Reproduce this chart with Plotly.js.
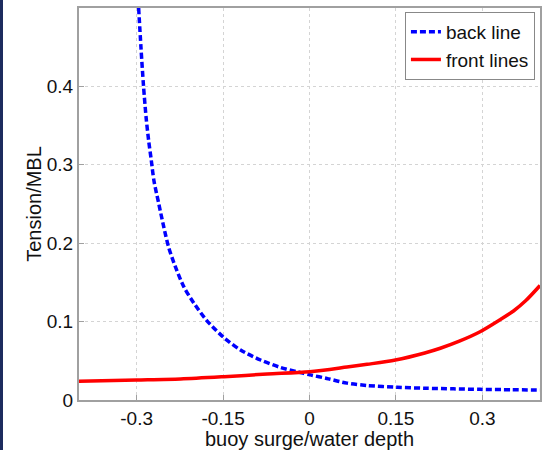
<!DOCTYPE html>
<html>
<head>
<meta charset="utf-8">
<script src="https://cdn.plot.ly/plotly-3.0.1.min.js"></script>
<style>
html,body{margin:0;padding:0;background:#fff;}
#chart{width:543px;height:450px;}
#edge{position:absolute;left:0;top:0;width:3px;height:450px;background:#1d2b5e;}
</style>
</head>
<body>
<div id="chart"></div>
<div id="edge"></div>
<script>
// back line (blue dashed)
const backX = [-0.2965, -0.2925, -0.288, -0.2835, -0.279, -0.2746, -0.270, -0.2616, -0.253, -0.2445, -0.2328, -0.218, -0.2006, -0.179, -0.1486, -0.1196, -0.085, -0.0503, -0.0214, 0.0017, 0.03, 0.065, 0.1, 0.152, 0.2, 0.25, 0.296, 0.35, 0.4];
const backY = [0.5, 0.45, 0.4, 0.36, 0.33, 0.306, 0.280, 0.2505, 0.221, 0.195, 0.170, 0.1443, 0.1235, 0.102, 0.0796, 0.0637, 0.051, 0.0415, 0.036, 0.032, 0.0275, 0.0215, 0.0185, 0.0162, 0.015, 0.0142, 0.0136, 0.0131, 0.0127];
// front lines (red solid)
const frontX = [-0.4, -0.3, -0.2237, -0.1486, -0.0734, 0, 0.065, 0.1, 0.149, 0.2, 0.227, 0.26, 0.296, 0.33, 0.354, 0.375, 0.4];
const frontY = [0.024, 0.0255, 0.0268, 0.0297, 0.0331, 0.036, 0.042, 0.0455, 0.051, 0.060, 0.066, 0.075, 0.087, 0.102, 0.1135, 0.1265, 0.146];

const xTicks = [-0.3, -0.15, 0, 0.15, 0.3];
const xTickText = ['-0.3', '-0.15', '0', '0.15', '0.3'];
const yTicks = [0, 0.1, 0.2, 0.3, 0.4];
const yTickText = ['0', '0.1', '0.2', '0.3', '0.4'];

const font = 'Liberation Sans, Arial, sans-serif';

const traces = [
  {x: backX, y: backY, type: 'scatter', mode: 'lines', name: 'back line',
   line: {color: '#0000ff', width: 3.5, dash: '6px,3px', shape: 'spline', smoothing: 0.8}},
  {x: frontX, y: frontY, type: 'scatter', mode: 'lines', name: 'front lines',
   line: {color: '#ff0000', width: 3.5, shape: 'spline', smoothing: 0.8}}
];

const axisCommon = {
  showline: true, mirror: true, linecolor: '#a0a0a0', linewidth: 2,
  ticks: 'inside', ticklen: 5, tickcolor: '#a0a0a0',
  showgrid: true, gridcolor: '#d4d4d4', griddash: 'dot', gridwidth: 1,
  zeroline: false, tickfont: {family: font, size: 19, color: '#111'}
};

const layout = {
  width: 543, height: 450,
  margin: {l: 79, r: 3, t: 8, b: 50},
  paper_bgcolor: '#fff', plot_bgcolor: '#fff',
  showlegend: true,
  legend: {x: 0.989, y: 0.99, xanchor: 'right', yanchor: 'top',
    bgcolor: '#fff', bordercolor: '#888', borderwidth: 1,
    font: {family: font, size: 19, color: '#111'}, tracegroupgap: 0, itemwidth: 30},
  xaxis: Object.assign({}, axisCommon, {
    range: [-0.4, 0.4], tickmode: 'array', tickvals: xTicks, ticktext: xTickText,
    title: {text: 'buoy surge/water depth', font: {family: font, size: 20, color: '#111'}, standoff: 2}
  }),
  yaxis: Object.assign({}, axisCommon, {
    range: [0, 0.5], tickmode: 'array', tickvals: yTicks, ticktext: yTickText,
    title: {text: 'Tension/MBL', font: {family: font, size: 20, color: '#111'}, standoff: 0}
  })
};

Plotly.newPlot('chart', traces, layout, {displayModeBar: false, staticPlot: true});
</script>
</body>
</html>
